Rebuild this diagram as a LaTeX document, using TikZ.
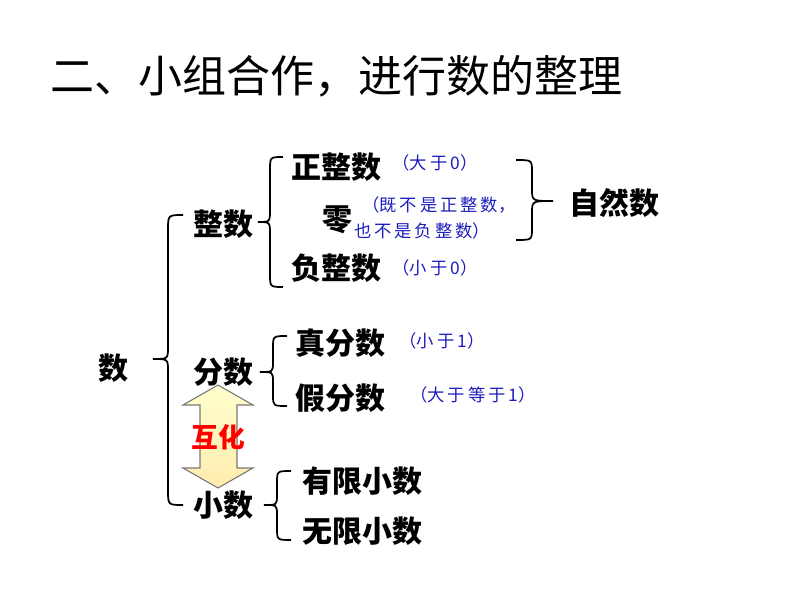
\documentclass[tikz,border=0pt]{standalone}
\usepackage{fontspec}
\setmainfont{Noto Sans CJK SC}
\newfontfamily\cjk{Noto Sans CJK SC}
\begin{document}
\begin{tikzpicture}[x=0.75pt,y=-0.75pt,
  lbl/.style={font=\cjk\bfseries\fontsize{22.5pt}{24pt}\selectfont, inner sep=0pt},
  note/.style={font=\cjk\fontsize{13pt}{18pt}\selectfont, text=notecol, inner sep=0pt},
  brc/.style={line width=1.3pt, black},
  title/.style={font=\cjk\fontsize{33pt}{36pt}\selectfont, inner sep=0pt}]
\definecolor{notecol}{RGB}{30,30,190}
\definecolor{arrfill}{RGB}{255,255,205}
\definecolor{arrline}{RGB}{120,120,120}
\useasboundingbox (0,0) rectangle (794,596);
\fill[white] (0,0) rectangle (794,596);
% title
\node[title, anchor=west] (title) at (50,76) {二、小组合作，进行数的整理};
% root
\node[lbl] (shu) at (113,368) {数};
% big brace
\draw[brc] (183,215) .. controls (168,215) .. (168,230) -- (168,347) .. controls (168,359) .. (153,359)
  .. controls (168,359) .. (168,371) -- (168,490) .. controls (168,505) .. (183,505);
% integers
\node[lbl] (zhengshu) at (223,224) {整数};
\draw[brc] (283,157) .. controls (270,157) .. (270,170) -- (270,210) .. controls (270,222) .. (258,222)
  .. controls (270,222) .. (270,234) -- (270,274) .. controls (270,287) .. (283,287);
\node[lbl] (zzs) at (336,167) {正整数};
\node[lbl] (ling) at (337,220) {零};
\node[note] (n1) at (435,163) {（大\,于\,0）};
\node[note, anchor=west] (n2a) at (362,205) {（既\,不\,是\,正\,整\,数，};
\node[note, anchor=west] (n2b) at (354,231) {也\,不\,是\,负\,整\,数）};
\node[lbl] (fzs) at (336,268) {负整数};
\node[note] (n3) at (435,268) {（小\,于\,0）};
% right brace
\draw[brc] (516,160) .. controls (532,160) .. (532,172) -- (532,189) .. controls (532,201) .. (553,201)
  .. controls (532,201) .. (532,213) -- (532,228) .. controls (532,240) .. (516,240);
\node[lbl] (zrs) at (614,203) {自然数};
% fractions
\node[lbl] (fenshu) at (223,372) {分数};
\draw[brc] (287,336) .. controls (273,336) .. (273,348) -- (273,362) .. controls (273,372) .. (260,372)
  .. controls (273,372) .. (273,382) -- (273,395) .. controls (273,406) .. (287,406);
\node[lbl] (zfs) at (340,343) {真分数};
\node[lbl] (jfs) at (340,398) {假分数};
\node[note] (n4) at (442,341) {（小\,于\,1）};
\node[note] (n5) at (473,395) {（大\,于\,等\,于\,1）};
% double arrow
\draw[line width=0.8pt, draw=arrline, top color=arrfill, bottom color=arrfill!85!orange]
  (218,385) -- (253,405) -- (237,405) -- (237,468) -- (253,468) -- (218,488)
  -- (183,468) -- (200,468) -- (200,405) -- (183,405) -- cycle;
\node[font=\cjk\bfseries\fontsize{20pt}{22pt}\selectfont, text=red, inner sep=0pt] (huhua) at (218,437) {互化};
% decimals
\node[lbl] (xiaoshu) at (223,505) {小数};
\draw[brc] (291,471) .. controls (277,471) .. (277,483) -- (277,495) .. controls (277,505) .. (264,505)
  .. controls (277,505) .. (277,515) -- (277,528) .. controls (277,540) .. (291,540);
\node[lbl] (yxxs) at (362,481) {有限小数};
\node[lbl] (wxxs) at (362,531) {无限小数};
\end{tikzpicture}
\end{document}
